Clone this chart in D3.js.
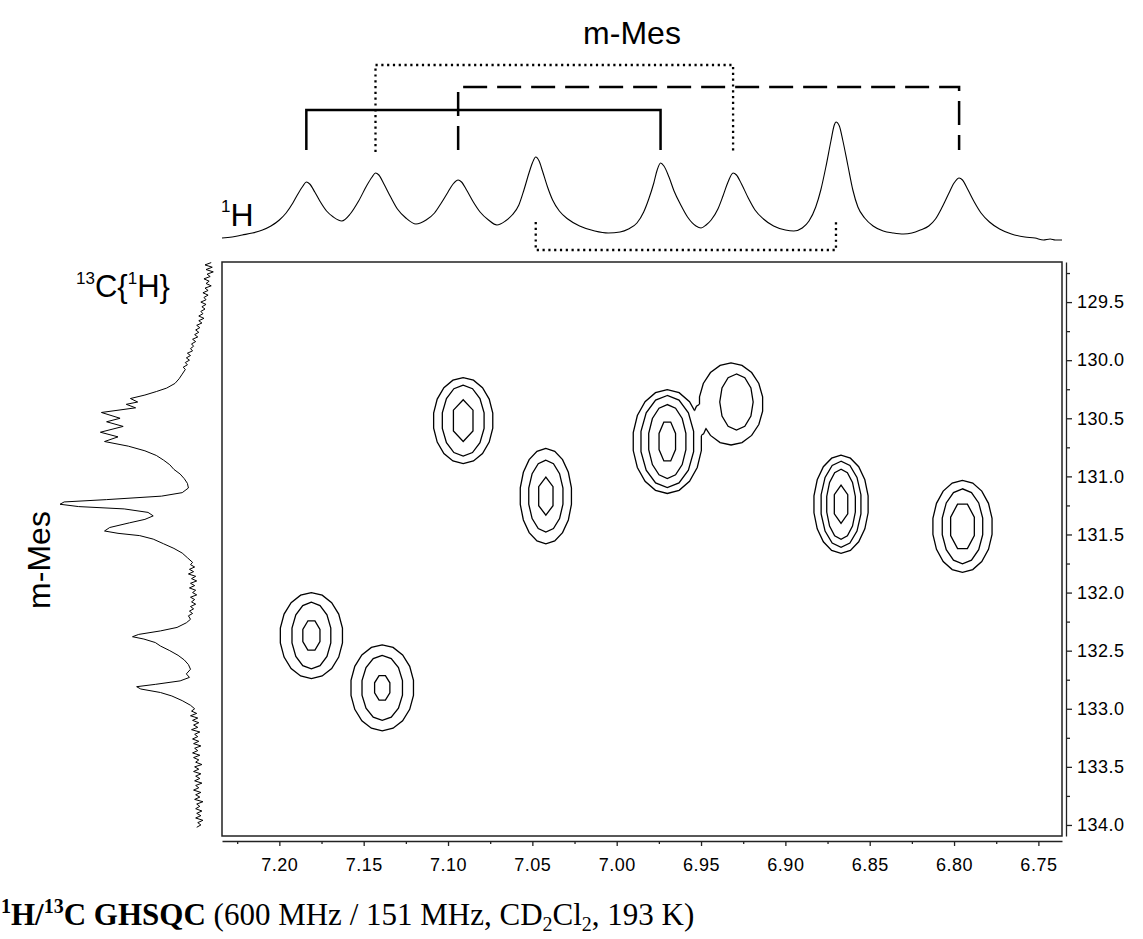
<!DOCTYPE html>
<html lang="en">
<head>
<meta charset="UTF-8">
<title>1H/13C GHSQC m-Mes</title>
<script src="https://d3js.org/d3.v7.min.js"></script>
<style>
  body { margin: 0; background: #fff; }
  svg { display: block; font-family: "Liberation Sans", Arial, sans-serif; }
</style>
</head>
<body>
<div id="chart"></div>
<script>
// cross peaks: 1H shift, 13C shift (ppm)
const crossH = [7.091, 7.042, 6.970, 6.929, 6.867, 6.795, 7.181, 7.139];
const crossC = [130.52, 131.17, 130.70, 130.36, 131.24, 131.43, 132.37, 132.82];
// contour ring half-widths, outer ring first (ppm)
const ringH = [
  [0.0178, 0.0127, 0.0067],
  [0.0154, 0.0104, 0.0049],
  [0.0205, 0.0160, 0.0113, 0.0053],
  [0.0190, 0.0099],
  [0.0163, 0.0121, 0.0087, 0.0046],
  [0.0178, 0.0123, 0.0076],
  [0.0187, 0.0118, 0.0055],
  [0.0188, 0.0123, 0.0049]
];
const ringC = [
  [0.37, 0.305, 0.18],
  [0.41, 0.31, 0.164],
  [0.447, 0.396, 0.318, 0.181],
  [0.353, 0.241],
  [0.422, 0.37, 0.301, 0.164],
  [0.396, 0.323, 0.207],
  [0.37, 0.287, 0.136],
  [0.37, 0.28, 0.114]
];
// the lowest level of the 6.93 ppm peak is off-centre and joins the 6.97 ppm peak
const outerCentreD = [6.9322, 130.377];
// saddle between them (centre and half-widths, ppm)
const saddle = [6.9506, 130.515, 0.0042, 0.138];

// 1H projection: [ppm, intensity]
const protonTrace = [
  [7.234, 7], [7.228, 8], [7.222, 10], [7.216, 12], [7.210, 15], [7.205, 19], [7.200, 25],
  [7.196, 32], [7.192, 42], [7.189, 51], [7.186, 59], [7.184, 63], [7.182, 61], [7.179, 53],
  [7.176, 44], [7.172, 34], [7.168, 28], [7.163, 24], [7.158, 31], [7.153, 44], [7.148, 60],
  [7.145, 68], [7.143, 72], [7.141, 70], [7.138, 61], [7.134, 48], [7.130, 36], [7.125, 27],
  [7.119, 21], [7.113, 25], [7.108, 32], [7.104, 42], [7.100, 53], [7.097, 61], [7.094, 65],
  [7.092, 63], [7.089, 55], [7.085, 43], [7.081, 33], [7.076, 25], [7.071, 20], [7.066, 24],
  [7.062, 30], [7.058, 40], [7.055, 55], [7.052, 72], [7.050, 82], [7.048, 88], [7.046, 84],
  [7.044, 74], [7.041, 58], [7.038, 45], [7.034, 34], [7.029, 26], [7.022, 19], [7.013, 14],
  [7.005, 12], [6.998, 13], [6.993, 16], [6.988, 22], [6.984, 33], [6.981, 46], [6.978, 62],
  [6.976, 75], [6.974, 82], [6.972, 79], [6.969, 68], [6.966, 54], [6.962, 40], [6.958, 28],
  [6.953, 19], [6.950, 17], [6.947, 20], [6.944, 25], [6.940, 36], [6.937, 49], [6.934, 63],
  [6.931, 72], [6.929, 70], [6.926, 61], [6.922, 47], [6.918, 35], [6.913, 26], [6.907, 19],
  [6.900, 15], [6.895, 14], [6.890, 17], [6.886, 24], [6.882, 38], [6.879, 55], [6.876, 78],
  [6.873, 104], [6.871, 120], [6.870, 123], [6.868, 119], [6.866, 105], [6.863, 80], [6.860, 55],
  [6.857, 38], [6.853, 27], [6.848, 19], [6.842, 14], [6.836, 12], [6.830, 11], [6.825, 12],
  [6.820, 15], [6.815, 19], [6.811, 26], [6.807, 38], [6.803, 52], [6.800, 62], [6.797, 67],
  [6.795, 65], [6.792, 56], [6.788, 43], [6.784, 32], [6.779, 23], [6.773, 16], [6.766, 11],
  [6.758, 8], [6.752, 7], [6.747, 5], [6.743, 6], [6.740, 5], [6.736, 5]
];

// 13C projection: [ppm, intensity]
const carbonTrace = [
  [129.16, -6], [129.18, 0], [129.20, -7], [129.22, -1], [129.24, -8], [129.26, -2], [129.28, -5],
  [129.30, 1], [129.32, -4], [129.34, -1], [129.36, -6], [129.38, 0], [129.40, -3], [129.42, 2],
  [129.44, -3], [129.46, 1], [129.48, -1], [129.50, 4], [129.52, -1], [129.54, 3], [129.56, 0],
  [129.58, 4], [129.60, 2], [129.62, 6], [129.64, 1], [129.66, 6], [129.68, 3], [129.70, 8],
  [129.72, 5], [129.74, 9], [129.76, 6], [129.78, 10], [129.80, 7], [129.82, 12], [129.84, 9],
  [129.86, 13], [129.88, 11], [129.90, 14], [129.92, 12], [129.94, 17], [129.96, 14], [129.98, 18],
  [130.00, 15], [130.02, 19], [130.04, 17], [130.06, 21], [130.08, 19], [130.12, 22], [130.16, 25],
  [130.20, 29], [130.24, 37], [130.27, 47], [130.30, 58], [130.33, 72], [130.36, 65], [130.38, 76],
  [130.41, 67], [130.45, 100], [130.50, 82], [130.53, 95], [130.57, 79], [130.62, 101], [130.66, 84],
  [130.70, 97], [130.74, 74], [130.78, 58], [130.82, 47], [130.86, 40], [130.90, 34], [130.94, 30],
  [130.98, 24], [131.02, 20], [131.06, 17], [131.10, 16], [131.14, 22], [131.17, 42], [131.20, 95],
  [131.22, 136], [131.24, 140], [131.26, 122], [131.28, 78], [131.31, 55], [131.34, 50], [131.37, 58],
  [131.40, 73], [131.44, 92], [131.47, 97], [131.49, 84], [131.51, 63], [131.54, 50], [131.58, 40],
  [131.62, 30], [131.66, 22], [131.70, 17], [131.74, 12], [131.76, 14], [131.78, 10], [131.80, 15],
  [131.82, 11], [131.84, 16], [131.86, 9], [131.88, 13], [131.90, 8], [131.92, 14], [131.94, 10],
  [131.96, 15], [131.98, 9], [132.00, 12], [132.02, 8], [132.04, 14], [132.06, 10], [132.08, 13],
  [132.10, 9], [132.12, 14], [132.14, 11], [132.16, 15], [132.18, 12], [132.20, 16], [132.23, 14],
  [132.26, 18], [132.30, 27], [132.33, 43], [132.36, 64], [132.38, 70], [132.40, 59], [132.43, 48],
  [132.46, 43], [132.50, 34], [132.54, 26], [132.58, 20], [132.62, 16], [132.66, 14], [132.70, 18],
  [132.73, 15], [132.76, 24], [132.79, 48], [132.81, 66], [132.83, 62], [132.86, 43], [132.89, 32],
  [132.93, 22], [132.97, 14], [133.00, 10], [133.02, 13], [133.04, 8], [133.06, 14], [133.08, 7],
  [133.10, 12], [133.12, 6], [133.14, 11], [133.16, 7], [133.18, 13], [133.20, 5], [133.22, 10],
  [133.24, 7], [133.26, 12], [133.28, 6], [133.30, 11], [133.32, 4], [133.34, 10], [133.36, 7],
  [133.38, 12], [133.40, 5], [133.42, 11], [133.44, 6], [133.46, 9], [133.48, 3], [133.50, 10],
  [133.52, 6], [133.54, 11], [133.56, 4], [133.58, 9], [133.60, 5], [133.62, 10], [133.64, 3],
  [133.66, 9], [133.68, 6], [133.70, 11], [133.72, 4], [133.74, 9], [133.76, 5], [133.78, 10],
  [133.80, 2], [133.82, 8], [133.84, 5], [133.86, 9], [133.88, 3], [133.90, 8], [133.92, 4],
  [133.94, 9], [133.96, 2], [133.98, 7], [134.00, 4], [134.02, 8]
];

// assignment brackets over the 1H trace (ppm pairs)
const bracketFrom = [7.184, 7.143, 7.094, 7.048];
const bracketTo = [6.974, 6.931, 6.797, 6.870];

const hTicks = [7.20, 7.15, 7.10, 7.05, 7.00, 6.95, 6.90, 6.85, 6.80, 6.75];
const hMinor = [7.225, 7.175, 7.125, 7.075, 7.025, 6.975, 6.925, 6.875, 6.825, 6.775];
const cTicks = [129.5, 130.0, 130.5, 131.0, 131.5, 132.0, 132.5, 133.0, 133.5, 134.0];
const cMinor = [129.25, 129.75, 130.25, 130.75, 131.25, 131.75, 132.25, 132.75, 133.25, 133.75];

const W = 1143, H = 939;
const svg = d3.select('#chart').append('svg')
  .attr('width', W).attr('height', H);
svg.append('rect').attr('width', W).attr('height', H).attr('fill', '#fff');
const defs = svg.append('defs');

const x = d3.scaleLinear().domain([7.234, 6.736]).range([222, 1062]);
const y = d3.scaleLinear().domain([129.155, 134.095]).range([262, 836]);
const yH = d3.scaleLinear().domain([0, 130]).range([245, 115]);
const xC = d3.scaleLinear().domain([0, 140]).range([205, 60]);

// frame of the 2D plot
svg.append('rect')
  .attr('x', x.range()[0]).attr('y', y.range()[0])
  .attr('width', x.range()[1] - x.range()[0])
  .attr('height', y.range()[1] - y.range()[0])
  .attr('fill', 'none').attr('stroke', '#222').attr('stroke-width', 1.5);

// bottom axis
const gx = svg.append('g').attr('transform', 'translate(0,841)')
  .call(d3.axisBottom(x).tickValues(hTicks).tickSize(5).tickSizeOuter(0)
    .tickPadding(12).tickFormat(d3.format('.2f')));
gx.selectAll('text').style('font-size', '18px').style('letter-spacing', '0.5px').attr('fill', '#000');
svg.append('g').attr('transform', 'translate(0,841)')
  .call(d3.axisBottom(x).tickValues(hMinor).tickSize(3).tickFormat(''))
  .select('.domain').remove();

// right axis
const gy = svg.append('g').attr('transform', 'translate(1066,0)')
  .call(d3.axisRight(y).tickValues(cTicks).tickSize(6).tickSizeOuter(0)
    .tickPadding(5).tickFormat(d3.format('.1f')));
gy.selectAll('text').style('font-size', '18px').style('letter-spacing', '0.5px').attr('fill', '#000');
svg.append('g').attr('transform', 'translate(1066,0)')
  .call(d3.axisRight(y).tickValues(cMinor).tickSize(4).tickFormat(''))
  .select('.domain').remove();
svg.selectAll('.domain, .tick line').attr('stroke', '#222').attr('stroke-width', 1.3);

// contour rings
function ring(h, c, rh, rc, n, rot) {
  const pts = d3.range(n).map(i => {
    const a = -Math.PI / 2 + (rot || 0) + i * 2 * Math.PI / n;
    return [x(h + rh * Math.cos(a)), y(c + rc * Math.sin(a))];
  });
  return d3.line().curve(d3.curveLinearClosed)(pts);
}
const innerSides = [6, 6, 8, 12, 6, 8, 8, 8];
const contours = svg.append('g').attr('fill', 'none').attr('stroke', '#000').attr('stroke-width', 1.3);

// lowest level of the 6.97 / 6.93 pair is one line: union of both rings and the saddle
const merged = [
  ring(crossH[2], crossC[2], ringH[2][0], ringC[2][0], 18),
  ring(outerCentreD[0], outerCentreD[1], ringH[3][0], ringC[3][0], 18),
  ring(saddle[0], saddle[1], saddle[2], saddle[3], 12)
];
merged.forEach((d, i) => {
  const m = defs.append('mask').attr('id', 'merge' + i)
    .attr('maskUnits', 'userSpaceOnUse').attr('x', 0).attr('y', 0).attr('width', W).attr('height', H);
  m.append('rect').attr('width', W).attr('height', H).attr('fill', '#fff');
  merged.forEach((o, j) => { if (j !== i) m.append('path').attr('d', o).attr('fill', '#000'); });
  contours.append('path').attr('d', d).attr('mask', `url(#merge${i})`);
});

crossH.forEach((h, i) => {
  const nr = ringH[i].length;
  ringH[i].forEach((rh, k) => {
    if (k === 0 && (i === 2 || i === 3)) return;
    const n = k === nr - 1 ? innerSides[i] : (k === 0 ? 18 : 14);
    const rot = n === 8 ? Math.PI / 8 : 0;
    contours.append('path').attr('d', ring(h, crossC[i], rh, ringC[i][k], n, rot));
  });
});

// 1H projection
svg.append('path')
  .datum(protonTrace)
  .attr('fill', 'none').attr('stroke', '#000').attr('stroke-width', 1.1)
  .attr('d', d3.line().x(d => x(d[0])).y(d => yH(d[1])).curve(d3.curveMonotoneX));

// 13C projection
svg.append('path')
  .datum(carbonTrace)
  .attr('fill', 'none').attr('stroke', '#000').attr('stroke-width', 1)
  .attr('d', d3.line().x(d => xC(d[1])).y(d => y(d[0])));

// brackets
const bracketLevel = [110, 65, 87, 250];
const bracketLeg = [150, 152, 150, 222];
const bracketDash = [null, '2.2,3.6', '24,10', '2.2,3.6'];
const bracketWidth = [2.5, 2.3, 2.5, 2.3];
bracketFrom.forEach((f, i) => {
  const x1 = x(f), x2 = x(bracketTo[i]);
  svg.append('path')
    .attr('d', `M${x1},${bracketLeg[i]}V${bracketLevel[i]}H${x2}V${bracketLeg[i]}`)
    .attr('fill', 'none').attr('stroke', '#000')
    .attr('stroke-width', bracketWidth[i])
    .attr('stroke-dasharray', bracketDash[i]);
});

// labels
svg.append('text').attr('x', 632).attr('y', 44).attr('text-anchor', 'middle')
  .style('font-size', '32px').text('m-Mes');

const hLab = svg.append('text').attr('x', 221).attr('y', 226).style('font-size', '32px');
hLab.append('tspan').style('font-size', '17px').attr('dy', -14).text('1');
hLab.append('tspan').attr('dy', 14).text('H');

const cLab = svg.append('text').attr('x', 76).attr('y', 297).style('font-size', '31px');
cLab.append('tspan').style('font-size', '17px').attr('dy', -13).text('13');
cLab.append('tspan').attr('dy', 13).text('C{');
cLab.append('tspan').style('font-size', '17px').attr('dy', -13).text('1');
cLab.append('tspan').attr('dy', 13).text('H}');

svg.append('text')
  .attr('transform', 'translate(50,560) rotate(-90)')
  .attr('text-anchor', 'middle').style('font-size', '32px').text('m-Mes');

// caption
const cap = svg.append('text').attr('x', 1).attr('y', 925)
  .style('font-family', '"Liberation Serif", "Times New Roman", serif').style('font-size', '31px');
cap.append('tspan').style('font-weight', 'bold').style('font-size', '20px').attr('dy', -12).text('1');
cap.append('tspan').style('font-weight', 'bold').attr('dy', 12).text('H/');
cap.append('tspan').style('font-weight', 'bold').style('font-size', '20px').attr('dy', -12).text('13');
cap.append('tspan').style('font-weight', 'bold').attr('dy', 12).text('C GHSQC');
cap.append('tspan').text(' (600 MHz / 151 MHz, CD');
cap.append('tspan').style('font-size', '20px').attr('dy', 6).text('2');
cap.append('tspan').attr('dy', -6).text('Cl');
cap.append('tspan').style('font-size', '20px').attr('dy', 6).text('2');
cap.append('tspan').attr('dy', -6).text(', 193 K)');
</script>
</body>
</html>
